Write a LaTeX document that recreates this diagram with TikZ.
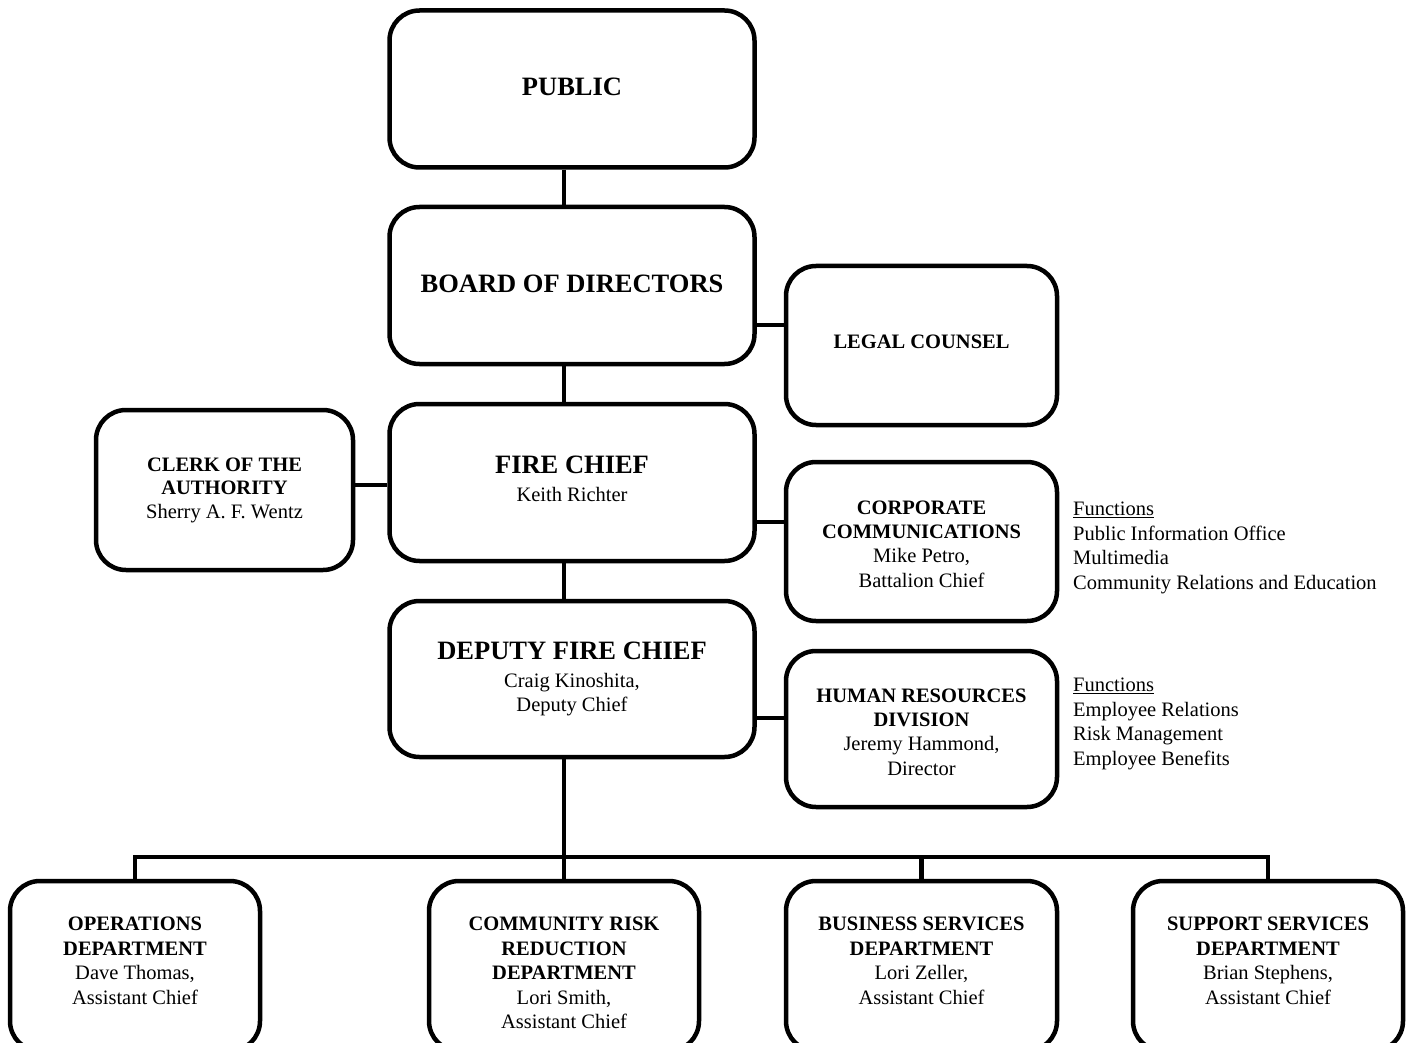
\documentclass[tikz,border=0pt]{standalone}
\usepackage{fontspec}
\setmainfont{Liberation Serif}
\begin{document}
\begin{tikzpicture}[x=1pt,y=-1pt,
  box/.style={draw, line width=4.5pt, rounded corners=30pt, align=center, inner sep=0pt,
    font=\fontsize{20.5}{24.3}\selectfont},
  bigbox/.style={box, minimum width=365pt, minimum height=157pt},
  sidebox/.style={box, minimum width=271pt, minimum height=159pt},
  txt/.style={align=center, inner sep=0pt, font=\fontsize{20.5}{24.5}\selectfont},
  funcs/.style={align=left, inner sep=0pt, anchor=north west, font=\fontsize{20.5}{24.5}\selectfont},
  conn/.style={line width=4.5pt}
]
\useasboundingbox (0,0) rectangle (1406,1043);
\newcommand{\bigtitle}[1]{{\fontsize{26.5}{28}\selectfont\bfseries #1}}

% spine
\coordinate (spine) at (564,0);
\coordinate (bar) at (564,857);
\coordinate (ylegal) at (0,325);
\coordinate (yclerk) at (0,485);
\coordinate (ycorp) at (0,522);
\coordinate (yhr) at (0,718);

% main column
\node[bigbox, text depth=4pt] (public) at (572,89) {\bigtitle{PUBLIC}};
\node[bigbox, text depth=4pt] (board) at (572,285.5) {\bigtitle{BOARD OF DIRECTORS}};
\node[bigbox, text depth=8pt] (fire) at (572,482.5) {\bigtitle{FIRE CHIEF}\\[4pt]Keith Richter};
\node[bigbox, minimum height=156pt] (deputy) at (572,679) {\bigtitle{DEPUTY FIRE CHIEF}\\[4pt]Craig Kinoshita,\\Deputy Chief};

% side boxes
\node[sidebox, text depth=8pt] (legal) at (921.5,345.5) {\textbf{LEGAL COUNSEL}};
\node[box, minimum width=257pt, minimum height=160pt, font=\fontsize{20.5}{23.5}\selectfont] (clerk) at (224.5,490) {\textbf{CLERK OF THE}\\\textbf{AUTHORITY}\\Sherry A. F. Wentz};
\node[sidebox] (corp) at (921.5,541.5) {};
\node[sidebox, minimum height=156pt] (hr) at (921.5,729) {};
\node[txt, font=\fontsize{20.5}{24.3}\selectfont] (corpt) at (921.5,544) {\textbf{CORPORATE}\\\textbf{COMMUNICATIONS}\\Mike Petro,\\Battalion Chief};
\node[txt, font=\fontsize{20.5}{24.3}\selectfont] (hrt) at (921.5,732) {\textbf{HUMAN RESOURCES}\\\textbf{DIVISION}\\Jeremy Hammond,\\Director};

% functions
\node[funcs] (corpf) at (1073,502) {\underline{Functions}\\Public Information Office\\Multimedia\\Community Relations and Education};
\node[funcs] (hrf) at (1073,678) {\underline{Functions}\\Employee Relations\\Risk Management\\Employee Benefits};

% bottom boxes
\node[box, minimum width=250pt, minimum height=170pt] (ops) at (135,966) {};
\node[box, minimum width=270pt, minimum height=170pt] (crr) at (564,966) {};
\node[box, minimum width=271pt, minimum height=170pt] (bus) at (921.5,966) {};
\node[box, minimum width=270pt, minimum height=170pt] (sup) at (1268,966) {};

\node[txt, anchor=north] (opst) at (135,917) {\textbf{OPERATIONS}\\\textbf{DEPARTMENT}\\Dave Thomas,\\Assistant Chief};
\node[txt, anchor=north] (crrt) at (564,917) {\textbf{COMMUNITY RISK}\\\textbf{REDUCTION}\\\textbf{DEPARTMENT}\\Lori Smith,\\Assistant Chief};
\node[txt, anchor=north] (bust) at (921.5,917) {\textbf{BUSINESS SERVICES}\\\textbf{DEPARTMENT}\\Lori Zeller,\\Assistant Chief};
\node[txt, anchor=north] (supt) at (1268,917) {\textbf{SUPPORT SERVICES}\\\textbf{DEPARTMENT}\\Brian Stephens,\\Assistant Chief};

% connectors
\draw[conn] (public.south -| spine) -- (board.north -| spine);
\draw[conn] (board.south -| spine) -- (fire.north -| spine);
\draw[conn] (fire.south -| spine) -- (deputy.north -| spine);
\draw[conn] (deputy.south -| spine) -- (crr.north -| spine);
\draw[conn] (ops.north) |- (bar) -| (sup.north);
\draw[conn] (bus.north) -- (bus.north |- bar);
\draw[conn] (board.east |- ylegal) -- (legal.west |- ylegal);
\draw[conn] (clerk.east |- yclerk) -- (fire.west |- yclerk);
\draw[conn] (fire.east |- ycorp) -- (corp.west |- ycorp);
\draw[conn] (deputy.east |- yhr) -- (hr.west |- yhr);
\end{tikzpicture}
\end{document}
